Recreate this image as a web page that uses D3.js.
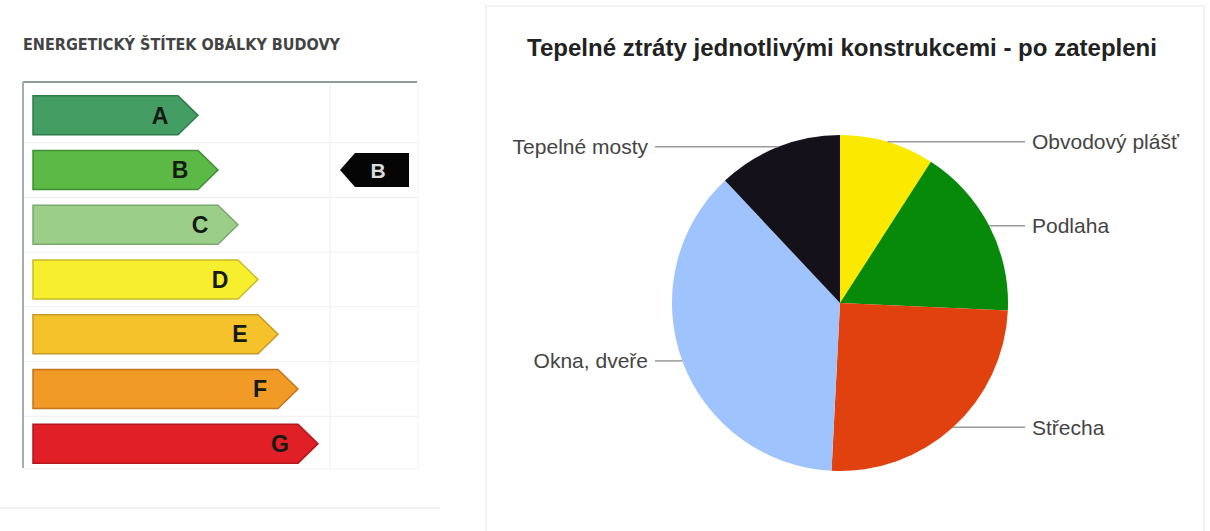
<!DOCTYPE html>
<html>
<head>
<meta charset="utf-8">
<script src="https://cdn.jsdelivr.net/npm/d3@7"></script>
<style>
    html, body { margin: 0; padding: 0; background: #fff; }
    svg { display: block; }
</style>
</head>
<body>
<div id="chart"></div>
<script>
// Energetický štítek + koláč tepelných ztrát

const energyClasses = ['A', 'B', 'C', 'D', 'E', 'F', 'G'];
const classFill = ['#449d62', '#5cb946', '#9bce89', '#f7ee2e', '#f5c22c', '#f29a26', '#e01f27'];
const classStroke = ['#2f7c4a', '#3f9031', '#79a96b', '#c8bb2a', '#c69a25', '#c2761c', '#b3161c'];
const currentClass = 'B';

const sliceLabels = ['Obvodový plášť', 'Podlaha', 'Střecha', 'Okna, dveře', 'Tepelné mosty'];
const sliceValues = [9.1, 16.6, 25.1, 37.2, 12.0];
const sliceColors = ['#fbe900', '#078a0a', '#e0410f', '#9fc3fc', '#15111a'];

const width = 1210;
const height = 531;

const svg = d3.select('#chart')
    .append('svg')
    .attr('width', width)
    .attr('height', height);

// --- karty (jemné okraje) ---
svg.append('line')
    .attr('x1', 0).attr('x2', 440).attr('y1', 508).attr('y2', 508)
    .attr('stroke', '#f2f2f2').attr('stroke-width', 2);
svg.append('path')
    .attr('d', 'M486,531 L486,6 L1204,6 L1204,531')
    .attr('fill', 'none')
    .attr('stroke', '#f3f3f3')
    .attr('stroke-width', 2);

// --- levý panel: štítek ---
svg.append('text')
    .attr('x', 23)
    .attr('y', 50)
    .attr('textLength', 317)
    .attr('lengthAdjust', 'spacingAndGlyphs')
    .attr('font-family', '"Liberation Sans Narrow", "DejaVu Sans Condensed", sans-serif')
    .attr('font-weight', 'bold')
    .attr('font-size', '16px')
    .attr('fill', '#444')
    .text('ENERGETICKÝ ŠTÍTEK OBÁLKY BUDOVY');

const tableLeft = 23;
const tableRight = 418;
const colX = 330;

const y = d3.scaleBand().domain(energyClasses).range([88, 471]);
const tipX = d3.scaleLinear().domain([0, energyClasses.length - 1]).range([198, 318]);
const barLeft = 33;
const barH = 39;
const tipDepth = 20;

const table = svg.append('g');

// řádkové linky
table.selectAll('line.row')
    .data(energyClasses.slice(1))
    .enter().append('line')
    .attr('class', 'row')
    .attr('x1', tableLeft).attr('x2', tableRight)
    .attr('y1', (d) => y(d)).attr('y2', (d) => y(d))
    .attr('stroke', '#efefef');
table.append('line')
    .attr('x1', tableLeft).attr('x2', tableRight)
    .attr('y1', y.range()[1] - 2).attr('y2', y.range()[1] - 2)
    .attr('stroke', '#f2f2f2');
table.append('line')
    .attr('x1', colX).attr('x2', colX)
    .attr('y1', 82).attr('y2', 469)
    .attr('stroke', '#efefef');
table.append('line')
    .attr('x1', tableRight).attr('x2', tableRight)
    .attr('y1', 82).attr('y2', 469)
    .attr('stroke', '#f2f2f2');
table.append('line')
    .attr('x1', tableLeft).attr('x2', tableRight - 1)
    .attr('y1', 82).attr('y2', 82)
    .attr('stroke', '#8d9c95').attr('stroke-width', 2);
table.append('line')
    .attr('x1', tableLeft).attr('x2', tableLeft)
    .attr('y1', 82).attr('y2', 468)
    .attr('stroke', '#a6aeb4').attr('stroke-width', 2);

const bars = table.selectAll('g.bar')
    .data(energyClasses)
    .enter().append('g')
    .attr('class', 'bar');

bars.append('path')
    .attr('d', (d, i) => {
        const top = y(d) + (y.bandwidth() - barH) / 2;
        const mid = top + barH / 2;
        const bottom = top + barH;
        const tip = tipX(i);
        return `M${barLeft},${top} L${tip - tipDepth},${top} L${tip},${mid} L${tip - tipDepth},${bottom} L${barLeft},${bottom} Z`;
    })
    .attr('fill', (d, i) => classFill[i])
    .attr('stroke', (d, i) => classStroke[i])
    .attr('stroke-width', 1.5);

bars.append('text')
    .attr('x', (d, i) => tipX(i) - 38)
    .attr('y', (d) => y(d) + y.bandwidth() / 2)
    .attr('dy', '0.36em')
    .attr('text-anchor', 'middle')
    .attr('font-family', '"Liberation Sans", Arial, sans-serif')
    .attr('font-weight', 'bold')
    .attr('font-size', '23px')
    .attr('fill', '#141a14')
    .text((d) => d);

// ukazatel aktuální třídy
const markH = 34;
const markTop = y(currentClass) + (y.bandwidth() - markH) / 2;
const markTip = 340;
const markRight = 409;
table.append('path')
    .attr('d', `M${markTip},${markTop + markH / 2} L${markTip + 15},${markTop} L${markRight},${markTop} L${markRight},${markTop + markH} L${markTip + 15},${markTop + markH} Z`)
    .attr('fill', '#050505');
table.append('text')
    .attr('x', 378)
    .attr('y', markTop + markH / 2)
    .attr('dy', '0.36em')
    .attr('text-anchor', 'middle')
    .attr('font-family', '"Liberation Sans", Arial, sans-serif')
    .attr('font-weight', 'bold')
    .attr('font-size', '21px')
    .attr('fill', '#dcdcdc')
    .text(currentClass);

// --- pravý panel: koláč ---
svg.append('text')
    .attr('x', 527)
    .attr('y', 56)
    .attr('textLength', 630)
    .attr('lengthAdjust', 'spacingAndGlyphs')
    .attr('font-family', '"Liberation Sans", Arial, sans-serif')
    .attr('font-weight', 'bold')
    .attr('font-size', '23.5px')
    .attr('fill', '#222')
    .text('Tepelné ztráty jednotlivými konstrukcemi - po zatepleni');

const cx = 840;
const cy = 303;
const radius = 168;

const pie = d3.pie().sort(null).value((d) => d);
const arcs = pie(sliceValues);
const arc = d3.arc().innerRadius(0).outerRadius(radius);
const anchorArc = d3.arc().innerRadius(radius).outerRadius(radius);

const pieG = svg.append('g').attr('transform', `translate(${cx}, ${cy})`);

pieG.selectAll('path.slice')
    .data(arcs)
    .enter().append('path')
    .attr('class', 'slice')
    .attr('d', arc)
    .attr('fill', (d, i) => sliceColors[i]);

const labelGap = 24;
const lineGap = 17;

const labels = arcs.map((d, i) => {
    const [ax, ay] = anchorArc.centroid(d);
    const side = ax >= 0 ? 1 : -1;
    return { name: sliceLabels[i], ax, ay, side };
});

pieG.selectAll('line.leader')
    .data(labels)
    .enter().append('line')
    .attr('class', 'leader')
    .attr('x1', (d) => d.ax)
    .attr('y1', (d) => d.ay)
    .attr('x2', (d) => d.side * (radius + lineGap))
    .attr('y2', (d) => d.ay)
    .attr('stroke', '#9a9a9a')
    .attr('stroke-width', 1.5);

pieG.selectAll('text.label')
    .data(labels)
    .enter().append('text')
    .attr('class', 'label')
    .attr('x', (d) => d.side * (radius + labelGap))
    .attr('y', (d) => d.ay)
    .attr('dy', '0.35em')
    .attr('text-anchor', (d) => d.side > 0 ? 'start' : 'end')
    .attr('font-family', '"Liberation Sans", Arial, sans-serif')
    .attr('font-size', '21px')
    .attr('fill', '#444')
    .text((d) => d.name);
</script>
</body>
</html>
